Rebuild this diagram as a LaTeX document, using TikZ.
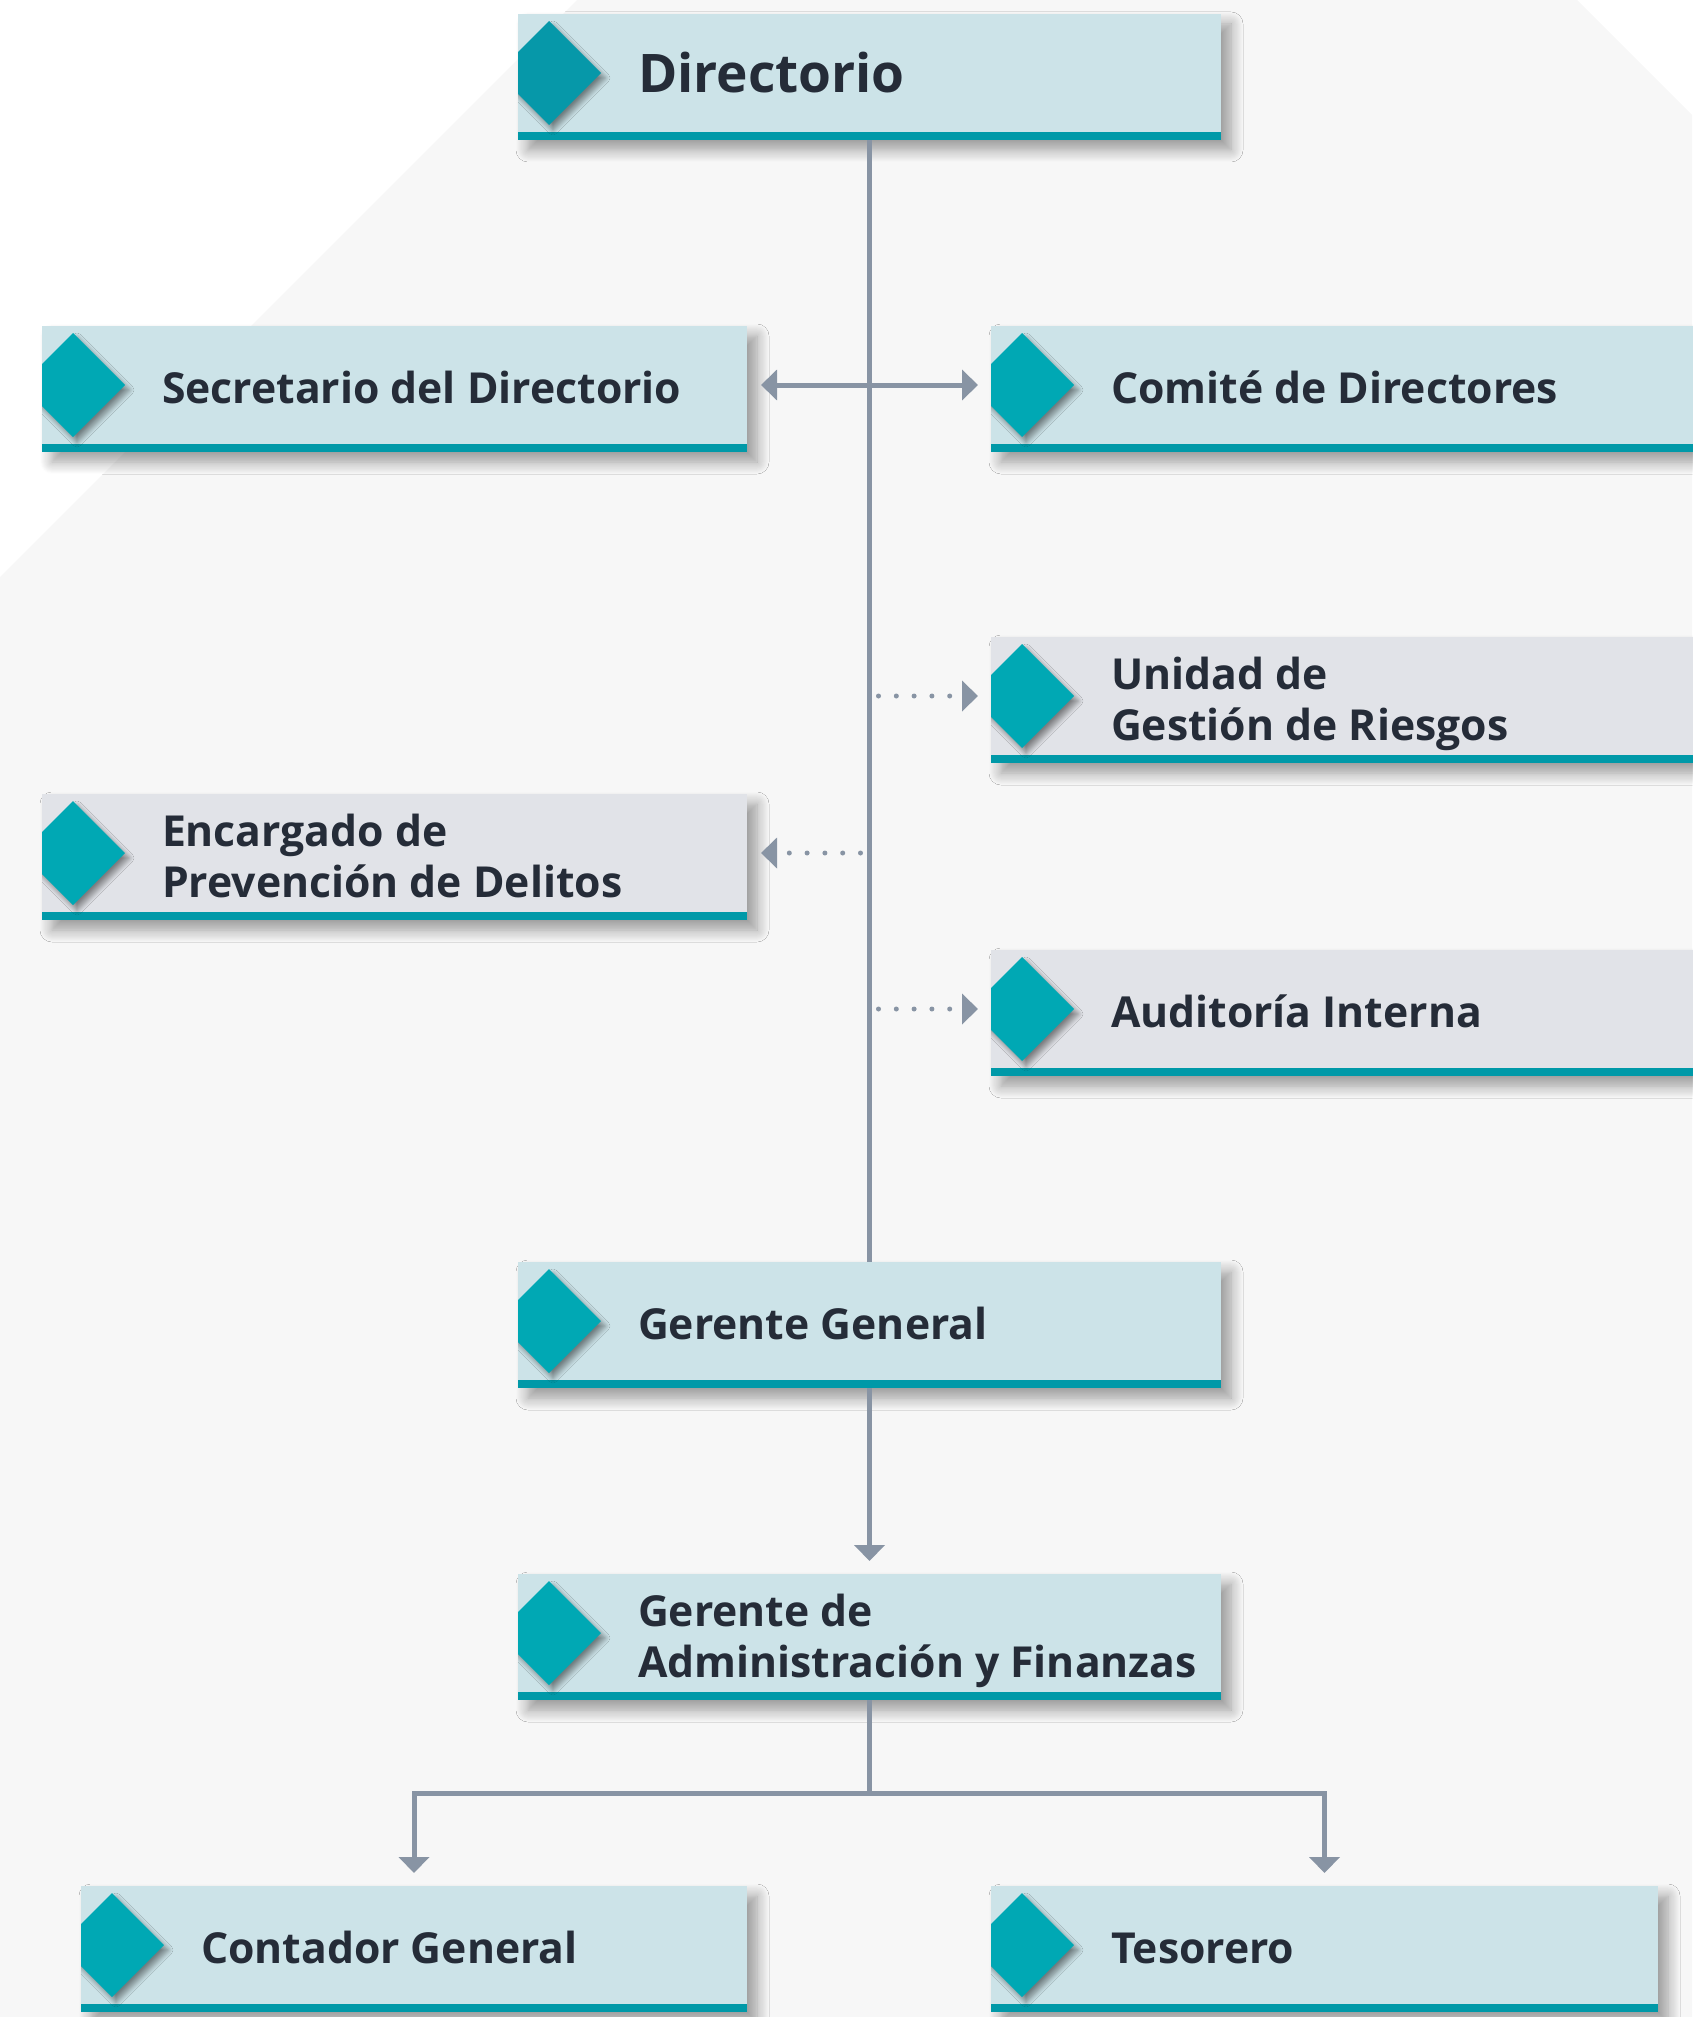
\documentclass[tikz,border=0pt]{standalone}
\usepackage{fontspec}
\setmainfont{Open Sans}
\usetikzlibrary{arrows.meta,shadows.blur,calc}
\definecolor{cbg}{HTML}{F7F7F7}
\definecolor{cblue}{HTML}{CCE3E8}
\definecolor{cgray}{HTML}{E1E3E8}
\definecolor{cbar}{HTML}{0099A8}
\definecolor{cdia}{HTML}{00A8B4}
\definecolor{cdiadark}{HTML}{0698A9}
\definecolor{ctxt}{HTML}{252C38}
\definecolor{cline}{HTML}{8894A4}
\colorlet{diacur}{cdia}
\tikzset{
  card/.style={anchor=north west, inner sep=0pt, outer sep=0pt,
    minimum height=126pt, minimum width=#1, fill=cblue,
    blur shadow={shadow xshift=10pt, shadow yshift=-10pt, shadow blur radius=12pt, shadow opacity=38, shadow blur steps=12},
    path picture={
      \fill[cbar] ([yshift=8pt]path picture bounding box.south west) rectangle (path picture bounding box.south east);
      \fill[diacur, blur shadow={shadow xshift=4pt, shadow yshift=-5pt, shadow blur radius=5pt, shadow opacity=45}]
        ([xshift=31pt,yshift=-7pt]path picture bounding box.north west) -- ++(52,-52) -- ++(-52,-52) -- ++(-52,52) -- cycle;
    }},
  lbl/.style={anchor=base west, inner sep=0pt, outer sep=0pt, text=ctxt,
    font=\bfseries\fontsize{42.7}{50}\selectfont},
  wire/.style={draw=cline, line width=5pt},
  tip/.style={wire, -{Triangle[length=16pt,width=30pt]}},
  dots/.style={draw=cline, line width=5pt, line cap=round, dash pattern=on 0pt off 17.8pt,
    -{Triangle[length=16pt,width=30pt]}},
}
\begin{document}
\begin{tikzpicture}[x=1pt,y=1pt]
\useasboundingbox (0,0) rectangle (1692,-2017);
\fill[cbg] (577,0) -- (1577,0) -- (1692,-115) -- (1692,-2017) -- (0,-2017) -- (0,-577) -- cycle;

% cards
\colorlet{diacur}{cdiadark}
\node[card=703pt] (dir) at (518,-14) {};
\colorlet{diacur}{cdia}
\node[card=705pt] (sec) at (42,-326) {};
\node[card=709pt] (com) at (991,-326) {};
\node[card=709pt, fill=cgray] (uni) at (991,-637) {};
\node[card=705pt, fill=cgray] (enc) at (42,-794) {};
\node[card=709pt, fill=cgray] (aud) at (991,-950) {};
\node[card=703pt] (gg) at (518,-1262) {};
\node[card=703pt] (adm) at (518,-1574) {};
\node[card=666pt] (cont) at (81,-1886) {};
\node[card=667pt] (tes) at (991,-1886) {};

% labels
\node[lbl, font=\bfseries\fontsize{53.2}{64}\selectfont] (dir-t) at ([xshift=120pt,yshift=-16pt]dir.west) {Directorio};
\node[lbl] (sec-t) at ([xshift=120pt,yshift=-14pt]sec.west) {Secretario del Directorio};
\node[lbl] (com-t) at ([xshift=120pt,yshift=-14pt]com.west) {Comité de Directores};
\node[lbl] (uni-t1) at ([xshift=120pt,yshift=11pt]uni.west) {Unidad de};
\node[lbl] (uni-t2) at ([xshift=120pt,yshift=-40pt]uni.west) {Gestión de Riesgos};
\node[lbl] (enc-t1) at ([xshift=120pt,yshift=11pt]enc.west) {Encargado de};
\node[lbl] (enc-t2) at ([xshift=120pt,yshift=-40pt]enc.west) {Prevención de Delitos};
\node[lbl] (aud-t) at ([xshift=120pt,yshift=-14pt]aud.west) {Auditoría Interna};
\node[lbl] (gg-t) at ([xshift=120pt,yshift=-14pt]gg.west) {Gerente General};
\node[lbl] (adm-t1) at ([xshift=120pt,yshift=11pt]adm.west) {Gerente de};
\node[lbl] (adm-t2) at ([xshift=120pt,yshift=-40pt]adm.west) {Administración y Finanzas};
\node[lbl] (cont-t) at ([xshift=120pt,yshift=-14pt]cont.west) {Contador General};
\node[lbl] (tes-t) at ([xshift=120pt,yshift=-14pt]tes.west) {Tesorero};

% connectors
\draw[wire] (dir.south) -- (gg.north);
\draw[wire, {Triangle[length=16pt,width=30pt]}-{Triangle[length=16pt,width=30pt]}, shorten <=14pt, shorten >=13pt]
  ([yshift=4pt]sec.east) -- ([yshift=4pt]com.west);
\coordinate (u0) at ($(dir.south |- uni.west)+(9,4)$);
\draw[dots, shorten >=13pt] (u0) -- ([yshift=4pt]uni.west);
\coordinate (e0) at ($(dir.south |- enc.east)+(-9,4)$);
\draw[dots, shorten >=14pt] (e0) -- ([yshift=4pt]enc.east);
\coordinate (a0) at ($(dir.south |- aud.west)+(9,4)$);
\draw[dots, shorten >=13pt] (a0) -- ([yshift=4pt]aud.west);
\draw[tip, shorten >=13pt] (gg.south) -- (adm.north);
\coordinate (split) at ($(adm.south)+(0,-93)$);
\draw[wire] (adm.south) -- (split);
\draw[tip, shorten >=13pt] (split) -| (cont.north);
\draw[tip, shorten >=13pt] (split) -| (tes.north);
\end{tikzpicture}
\end{document}
